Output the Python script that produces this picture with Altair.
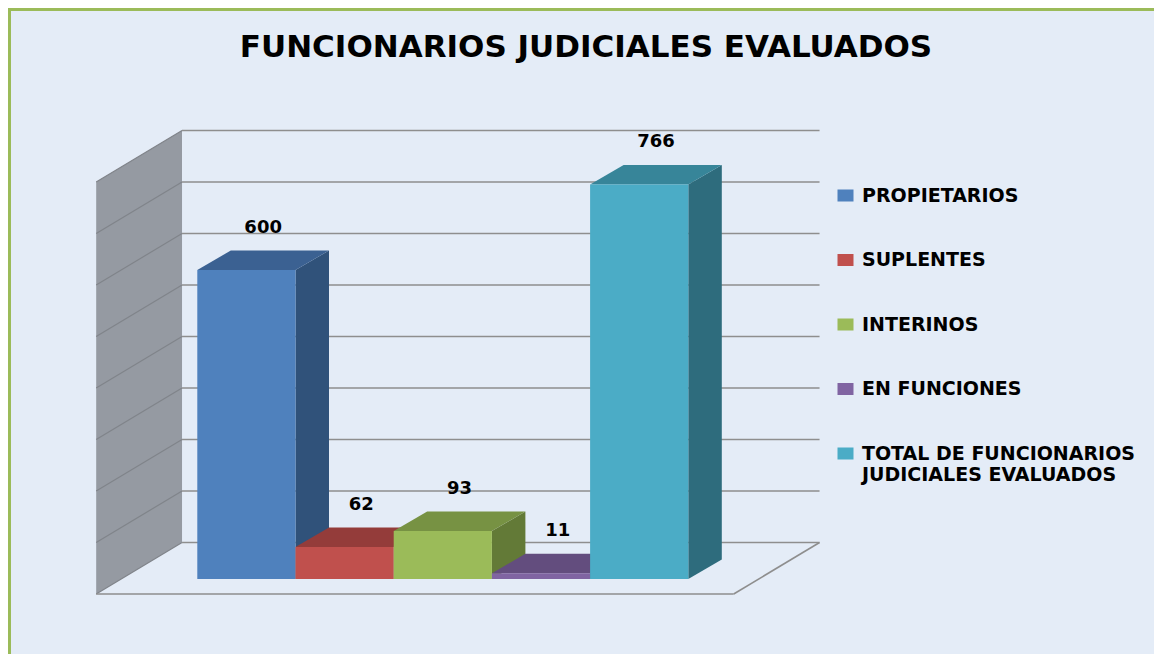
import altair as alt
import pandas as pd

# ---------------- data ----------------
categories = [
    "PROPIETARIOS",
    "SUPLENTES",
    "INTERINOS",
    "EN FUNCIONES",
    "TOTAL DE FUNCIONARIOS JUDICIALES EVALUADOS",
]
values = [600, 62, 93, 11, 766]
front_colors = ["#4F81BD", "#C0504D", "#9BBB59", "#8064A2", "#4BACC6"]
top_colors = ["#3B6192", "#943C3A", "#779243", "#634D7E", "#378599"]
side_colors = ["#30527A", "#7D3230", "#637A37", "#534169", "#2E6C7D"]
grid_values = [0, 100, 200, 300, 400, 500, 600, 700, 800]
title_text = "FUNCIONARIOS JUDICIALES EVALUADOS"

# ---------------- layout (pixels -> data units) ----------------
W, H = 1146, 646
PX_PER_CAT = 98.2          # width of one bar
PX_PER_VAL = 0.515         # pixels per unit of value
X_ORIGIN = 189.3           # left edge of first bar (view px)
Y_BASE = 571.0             # value 0 on the bar front plane (view px)
RECEDE = 85.0 / 51.0       # horizontal px per vertical px of depth


def depth(px_x, px_y):
    return px_x / PX_PER_CAT, px_y / PX_PER_VAL


BAR_D = depth(33.5, 19.5)              # bar depth
BACK = depth(36.5 * RECEDE, 36.5)      # back wall plane
FRONT = depth(-15 * RECEDE, -15)       # front edge of floor
WALL_X0, WALL_X1 = -0.775, 5.717       # wall extent (category units, own plane)
WALL_TOP = grid_values[-1]

x_scale = alt.Scale(domain=[-X_ORIGIN / PX_PER_CAT, (W - X_ORIGIN) / PX_PER_CAT],
                    nice=False, zero=False)
y_scale = alt.Scale(domain=[(Y_BASE - H) / PX_PER_VAL, Y_BASE / PX_PER_VAL],
                    nice=False, zero=False)

BG = "#E4ECF7"

# ---------------- tables ----------------
fronts = pd.DataFrame({
    "cat": categories,
    "x0": [i for i in range(len(values))],
    "x1": [i + 1 for i in range(len(values))],
    "v": values,
})

top_rows, side_rows, label_rows = [], [], []
for i, (c, v) in enumerate(zip(categories, values)):
    x0, x1 = i, i + 1
    dx, dy = BAR_D
    for px, lo, hi in [(x0, v, v), (x0 + dx, v, v + dy), (x1, v, v + dy), (x1 + dx, v + dy, v + dy)]:
        top_rows.append({"cat": c, "col": top_colors[i], "x": px, "y": lo, "y2": hi})
    for px, lo, hi in [(x1, 0, v), (x1 + dx, dy, v + dy)]:
        side_rows.append({"cat": c, "col": side_colors[i], "x": px, "y": lo, "y2": hi})
    label_rows.append({"cat": c, "x": (x0 + x1) / 2 + dx / 2, "y": v + dy, "t": str(v)})
tops = pd.DataFrame(top_rows)
sides = pd.DataFrame(side_rows)
labels = pd.DataFrame(label_rows)

back_grid = pd.DataFrame({
    "x": [WALL_X0 + BACK[0]] * len(grid_values),
    "x2": [WALL_X1 + BACK[0]] * len(grid_values),
    "y": [g + BACK[1] for g in grid_values],
    "y2": [g + BACK[1] for g in grid_values],
})
side_grid = pd.DataFrame({
    "x": [WALL_X0 + FRONT[0]] * len(grid_values),
    "x2": [WALL_X0 + BACK[0]] * len(grid_values),
    "y": [g + FRONT[1] for g in grid_values],
    "y2": [g + BACK[1] for g in grid_values],
})
side_wall = pd.DataFrame({
    "x": [WALL_X0 + FRONT[0], WALL_X0 + BACK[0]],
    "y": [FRONT[1], BACK[1]],
    "y2": [WALL_TOP + FRONT[1], WALL_TOP + BACK[1]],
})
floor_edges = pd.DataFrame({
    "x": [WALL_X0 + FRONT[0], WALL_X1 + FRONT[0]],
    "x2": [WALL_X1 + FRONT[0], WALL_X1 + BACK[0]],
    "y": [FRONT[1], FRONT[1]],
    "y2": [FRONT[1], BACK[1]],
})

X = lambda f: alt.X(f, type="quantitative", scale=x_scale, axis=None)
Y = lambda f: alt.Y(f, type="quantitative", scale=y_scale, axis=None, stack=None)

GRID = "#8E8E8E"

wall_layer = alt.Chart(side_wall).mark_area(color="#959AA2", orient="vertical").encode(
    x=X("x"), y=Y("y"), y2="y2")
side_grid_layer = alt.Chart(side_grid).mark_rule(color="#80848A", strokeWidth=1.2).encode(
    x=X("x"), x2="x2", y=Y("y"), y2="y2")
back_grid_layer = alt.Chart(back_grid).mark_rule(color=GRID, strokeWidth=1.6).encode(
    x=X("x"), x2="x2", y=Y("y"), y2="y2")
floor_layer = alt.Chart(floor_edges).mark_rule(color=GRID, strokeWidth=1.6).encode(
    x=X("x"), x2="x2", y=Y("y"), y2="y2")

side_layer = alt.Chart(sides).mark_area(orient="vertical").encode(
    x=X("x"), y=Y("y"), y2="y2",
    fill=alt.Fill("col:N", scale=None), detail="cat:N")
top_layer = alt.Chart(tops).mark_area(orient="vertical").encode(
    x=X("x"), y=Y("y"), y2="y2",
    fill=alt.Fill("col:N", scale=None), detail="cat:N")

legend = alt.Legend(
    orient="none", legendX=828, legendY=178, title=None,
    symbolType="M-1,-0.75H1V0.75H-1Z", symbolSize=256, symbolStrokeWidth=0,
    symbolOpacity=1,
    labelFont="DejaVu Sans", labelFontSize=19, labelFontWeight="bold",
    labelColor="#000000", labelLimit=400, labelOffset=7, rowPadding=44.5,
    labelExpr="datum.label == 'TOTAL DE FUNCIONARIOS JUDICIALES EVALUADOS' ? "
              "['TOTAL DE FUNCIONARIOS', 'JUDICIALES EVALUADOS'] : datum.label",
)
front_layer = alt.Chart(fronts).mark_rect().encode(
    x=X("x0"), x2="x1", y=Y("v"), y2=alt.Y2(datum=0),
    color=alt.Color("cat:N", scale=alt.Scale(domain=categories, range=front_colors),
                    legend=legend, sort=categories))

label_layer = alt.Chart(labels).mark_text(
    font="DejaVu Sans", fontSize=18, fontWeight="bold", color="#000000",
    dy=-23, baseline="middle", align="center").encode(
    x=X("x"), y=Y("y"), text="t:N")

one = alt.Data(values=[{"k": 1}])
border_left = alt.Chart(one).mark_rule(color="#9BBB59", strokeWidth=3).encode(
    x=alt.value(1.5), y=alt.value(0), y2=alt.value(H))
border_top = alt.Chart(one).mark_rule(color="#9BBB59", strokeWidth=3).encode(
    x=alt.value(0), x2=alt.value(W), y=alt.value(1.5))

chart = alt.layer(
    wall_layer, side_grid_layer, back_grid_layer, floor_layer,
    side_layer, top_layer, front_layer, label_layer,
    border_left, border_top,
).properties(
    width=W, height=H,
    title=alt.TitleParams(
        text=title_text, font="DejaVu Sans", fontSize=31, fontWeight="bold",
        color="#000000", anchor="middle", baseline="middle", offset=0, dy=72, dx=5),
    autosize=alt.AutoSizeParams(type="none"),
    padding=0,
).configure(background=BG).configure_view(stroke=None)

chart.save("out.html", embed_options={"renderer": "svg", "actions": False})
